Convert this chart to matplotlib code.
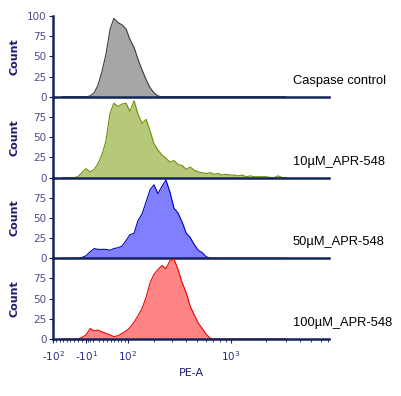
import numpy as np
import matplotlib
matplotlib.use("Agg")
import matplotlib.pyplot as plt
from matplotlib.ticker import FixedLocator, NullFormatter

# PE-A bin centres (shared by all histograms), 10 per line
pe_a = [-73, -62, -51, -41, -31, -21, -11, -1, 9, 18,
        28, 38, 49, 59, 70, 82, 94, 106, 120, 134,
        149, 165, 182, 199, 218, 239, 261, 285, 311, 339,
        369, 403, 436, 475, 515, 559, 605, 658, 712, 773,
        838, 908, 985, 1066, 1155, 1253, 1358, 1471, 1593, 1727,
        1870, 2026, 2195, 2378, 2575, 2788, 3021]

count_control = [0, 0, 0, 0, 0, 0, 0, 1, 5, 14,
                 31, 52, 84, 97, 92, 89, 84, 71, 61, 46,
                 33, 21, 11, 5, 1, 0, 0, 0, 0, 0,
                 0, 0, 0, 0, 0, 0, 0, 0, 0, 0,
                 0, 0, 0, 0, 0, 0, 0, 0, 0, 0,
                 0, 0, 0, 0, 0, 0, 0]
count_10uM = [0, 0, 0, 0, 1, 6, 11, 7, 10, 17,
              28, 45, 80, 92, 88, 91, 92, 82, 95, 78,
              67, 72, 57, 42, 34, 28, 24, 19, 21, 16,
              15, 10, 13, 9, 7, 6, 5, 6, 4, 5,
              3, 4, 3, 3, 2, 3, 1, 2, 1, 1,
              1, 1, 0, 0, 2, 0, 0]
count_50uM = [0, 0, 0, 0, 0, 1, 3, 8, 12, 11,
              11, 11, 10, 12, 13, 15, 22, 29, 31, 47,
              55, 70, 85, 91, 80, 89, 97, 82, 62, 56,
              45, 31, 26, 17, 10, 7, 2, 0, 0, 0,
              0, 0, 0, 0, 0, 0, 0, 0, 0, 0,
              0, 0, 0, 0, 0, 0, 0]
count_100uM = [0, 0, 0, 0, 0, 2, 5, 13, 10, 11,
               9, 7, 5, 3, 4, 7, 10, 14, 21, 29,
               38, 52, 70, 80, 86, 91, 87, 97, 99, 86,
               70, 57, 41, 30, 20, 13, 6, 1, 0, 0,
               0, 0, 0, 0, 0, 0, 0, 0, 0, 0,
               0, 0, 0, 0, 0, 0, 0]

sample_names = ["Caspase control", "10\u00b5M_APR-548", "50\u00b5M_APR-548", "100\u00b5M_APR-548"]
fill_colors = ["#a6a6a6", "#b6c97a", "#8080ff", "#ff8585"]
edge_colors = ["#3c3c3c", "#6f8f0a", "#0000c8", "#f00000"]
series = [count_control, count_10uM, count_50uM, count_100uM]

major_ticks = [-100, -10, 100, 1000]
major_labels = [r"-$10^{2}$", r"-$10^{1}$", r"$10^{2}$", r"$10^{3}$"]
minor_ticks = ([-90, -80, -70, -60, -50, -40, -30, -20, -5, 0, 5] +
               [20, 30, 40, 50, 60, 70, 80, 90] +
               [200, 300, 400, 500, 600, 700, 800, 900] +
               [2000, 3000, 4000, 5000, 6000, 7000])

navy = "#14245a"
tick_col = "#4d4d8c"

W, H = 401, 396
fig = plt.figure(figsize=(W / 100, H / 100), dpi=100)

left_px, right_px = 53, 329
top_px, bottom_px = 16, 339
ph = (bottom_px - top_px) / 4

for i, (counts, name) in enumerate(zip(series, sample_names)):
    y0 = top_px + i * ph
    ax = fig.add_axes([left_px / W, 1 - (y0 + ph) / H, (right_px - left_px) / W, ph / H])
    ax.set_xscale("asinh", linear_width=122)
    ax.set_xlim(-100, 7100)
    ax.set_ylim(0, 100)
    ax.patch.set_alpha(0)
    ax.fill_between(pe_a, counts, 0, color=fill_colors[i], linewidth=0, zorder=1)
    ax.plot(pe_a, counts, color=edge_colors[i], lw=0.8, zorder=2)
    for s in ["top", "right"]:
        ax.spines[s].set_visible(False)
    for s in ["left", "bottom"]:
        ax.spines[s].set_color(navy)
        ax.spines[s].set_linewidth(1.8)
    ax.spines["bottom"].set_zorder(5)
    if i == 0:
        ax.set_yticks([0, 25, 50, 75, 100])
    else:
        ax.set_yticks([0, 25, 50, 75])
    ax.tick_params(axis="y", length=3, width=0.8, color=navy, labelcolor=tick_col,
                   labelsize=7.5, pad=1.5)
    ax.xaxis.set_major_locator(FixedLocator(major_ticks))
    ax.xaxis.set_minor_locator(FixedLocator(minor_ticks))
    ax.xaxis.set_minor_formatter(NullFormatter())
    if i == 3:
        ax.set_xticklabels(major_labels)
        ax.tick_params(axis="x", which="major", length=3, width=0.8, color=navy,
                       labelcolor="#2a2a8c", labelsize=7.5, pad=4)
        ax.tick_params(axis="x", which="minor", length=2, width=0.6, color=navy)
    else:
        ax.tick_params(axis="x", which="both", length=0, labelbottom=False)
    fig.text(15 / W, 1 - (y0 + ph / 2) / H, "Count", rotation=90, ha="center",
             va="center", fontsize=8, fontweight="bold", color="#1c1c6e")
    fig.text(293 / W, 1 - (y0 + ph - 16) / H, name, ha="left", va="center",
             fontsize=9.3, family="Liberation Sans", color="black")

fig.text(191 / W, 1 - 373 / H, "PE-A", ha="center", va="center", fontsize=8,
         color="#1c1c6e")

fig.savefig("out.png", dpi=100)
